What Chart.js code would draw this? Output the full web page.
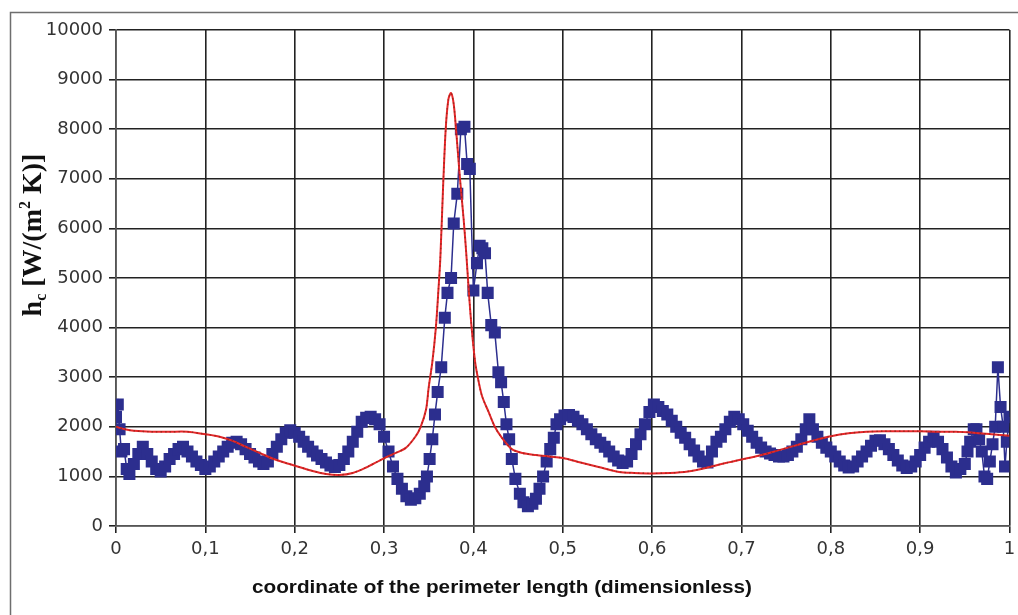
<!DOCTYPE html>
<html>
<head>
<meta charset="utf-8">
<script src="https://cdn.jsdelivr.net/npm/chart.js@4.4.1/dist/chart.umd.min.js"></script>
<style>
  html, body { margin: 0; padding: 0; background: #fff; }
  #wrap { position: relative; width: 1018px; height: 615px; }
</style>
</head>
<body>
<div id="wrap"><canvas id="hcChart" width="1018" height="615"></canvas></div>
<script>
// measured series (blue squares)
const measX = [0.000,0.002,0.004,0.006,0.009,0.012,0.015,0.020,0.025,0.030,0.035,0.040,0.045,0.050,0.055,0.060,0.065,0.070,0.075,0.080,
  0.085,0.090,0.095,0.100,0.105,0.110,0.115,0.120,0.125,0.130,0.135,0.140,0.145,0.150,0.155,0.160,0.165,0.170,0.175,0.180,
  0.185,0.190,0.195,0.200,0.205,0.210,0.215,0.220,0.225,0.230,0.235,0.240,0.245,0.250,0.255,0.260,0.265,0.270,0.275,0.280,
  0.285,0.290,0.295,0.300,0.305,0.310,0.315,0.320,0.325,0.330,0.335,0.340,0.345,0.348,0.351,0.354,0.357,0.360,0.364,0.368,
  0.371,0.375,0.378,0.382,0.386,0.390,0.393,0.396,0.400,0.404,0.407,0.410,0.413,0.416,0.420,0.424,0.428,0.431,0.434,0.437,
  0.440,0.443,0.447,0.452,0.456,0.461,0.466,0.470,0.474,0.478,0.482,0.486,0.490,0.493,0.497,0.502,0.507,0.512,0.517,0.522,
  0.527,0.532,0.537,0.542,0.547,0.552,0.557,0.562,0.567,0.572,0.577,0.582,0.587,0.592,0.597,0.602,0.607,0.612,0.617,0.622,
  0.627,0.632,0.637,0.642,0.647,0.652,0.657,0.662,0.667,0.672,0.677,0.682,0.687,0.692,0.697,0.702,0.707,0.712,0.717,0.722,
  0.727,0.732,0.737,0.742,0.747,0.752,0.757,0.762,0.767,0.772,0.776,0.780,0.785,0.790,0.795,0.800,0.805,0.810,0.815,0.820,
  0.825,0.830,0.835,0.840,0.845,0.850,0.855,0.860,0.865,0.870,0.875,0.880,0.885,0.890,0.895,0.900,0.905,0.910,0.915,0.920,
  0.925,0.930,0.935,0.940,0.945,0.950,0.953,0.956,0.960,0.963,0.966,0.969,0.972,0.975,0.978,0.981,0.984,0.987,0.990,0.993,
  0.995,0.997,1.000];
const measY = [2200,2450,1950,1500,1550,1150,1050,1250,1450,1600,1450,1300,1150,1100,1200,1350,1450,1550,1600,1500,
  1400,1300,1230,1150,1200,1300,1400,1500,1600,1680,1700,1650,1550,1450,1380,1300,1250,1300,1450,1600,
  1750,1880,1930,1880,1800,1700,1600,1500,1420,1350,1280,1220,1190,1230,1350,1500,1700,1900,2100,2180,
  2200,2150,2050,1800,1500,1200,950,750,600,530,560,650,800,1000,1350,1750,2250,2700,3200,4200,
  4700,5000,6100,6700,8000,8050,7300,7200,4750,5300,5650,5600,5500,4700,4050,3900,3100,2900,2500,2050,
  1750,1350,950,650,480,400,450,550,750,1000,1300,1550,1780,2050,2150,2230,2240,2200,2120,2050,
  1950,1850,1750,1680,1600,1500,1400,1320,1270,1300,1450,1650,1850,2050,2300,2450,2400,2320,2250,2120,
  2000,1880,1780,1650,1520,1400,1300,1280,1500,1700,1800,1950,2100,2200,2150,2050,1920,1800,1680,1580,
  1500,1460,1430,1400,1400,1430,1500,1600,1750,1950,2150,1950,1800,1680,1580,1500,1400,1300,1220,1180,
  1200,1300,1400,1500,1620,1720,1730,1650,1550,1430,1320,1220,1170,1200,1300,1430,1580,1700,1800,1700,
  1550,1380,1200,1080,1150,1250,1500,1700,1950,1950,1750,1500,1000,950,1300,1650,2000,3200,2400,2000,
  1200,1700,2200];

// computed series (red line)
const calcX = [0.000,0.010,0.020,0.040,0.060,0.080,0.100,0.116,0.130,0.145,0.160,0.175,0.190,0.205,0.220,0.235,0.250,0.265,0.280,0.295,
  0.310,0.324,0.335,0.341,0.347,0.350,0.354,0.358,0.361,0.363,0.366,0.369,0.372,0.375,0.378,0.381,0.385,0.389,0.392,0.395,
  0.398,0.402,0.406,0.410,0.417,0.424,0.431,0.443,0.455,0.470,0.485,0.500,0.520,0.540,0.563,0.580,0.600,0.620,0.640,0.660,
  0.680,0.700,0.720,0.740,0.760,0.780,0.800,0.820,0.840,0.860,0.880,0.900,0.920,0.940,0.960,0.980,1.000];
const calcY = [2000,1950,1920,1900,1900,1900,1850,1800,1720,1600,1480,1360,1270,1190,1110,1050,1030,1070,1180,1320,
  1450,1570,1800,2000,2350,2800,3300,4000,4800,5400,6800,8000,8600,8730,8500,7900,7000,6200,5500,4700,
  4000,3300,2900,2600,2300,2000,1800,1550,1470,1430,1400,1370,1280,1190,1090,1070,1060,1070,1100,1170,
  1260,1340,1420,1520,1620,1720,1810,1870,1900,1910,1910,1910,1900,1900,1880,1850,1820];

const yTicks = [0,1000,2000,3000,4000,5000,6000,7000,8000,9000,10000];
const xTitle = "coordinate of the perimeter length (dimensionless)";

function toPoints(xs, ys) {
  return xs.map((x, i) => ({ x: x, y: ys[i] }));
}

const NAVY = "#2c2e8e";
const RED = "#e8262a";

const framePlugin = {
  id: "frame",
  beforeDraw(chart) {
    const ctx = chart.ctx;
    ctx.save();
    ctx.strokeStyle = "#6e6e6e";
    ctx.lineWidth = 1.5;
    ctx.strokeRect(10.5, 12.5, 1030, 640);
    ctx.restore();
  },
  afterDraw(chart) {
    const ctx = chart.ctx;
    ctx.save();
    // x title, placed and stretched as in the original figure
    ctx.fillStyle = "#111";
    ctx.font = "bold 18px 'Liberation Sans', Arial, sans-serif";
    const tw = ctx.measureText(xTitle).width;
    ctx.save();
    ctx.translate(502, 588);
    ctx.scale(500 / tw, 1);
    ctx.textAlign = "center";
    ctx.textBaseline = "middle";
    ctx.fillText(xTitle, 0, 0);
    ctx.restore();

    // y title with sub/superscript
    ctx.translate(31, 235);
    ctx.rotate(-Math.PI / 2);
    const parts = [
      { t: "h", f: "bold 28px 'Liberation Serif', serif", dy: 0 },
      { t: "c", f: "bold 16px 'Liberation Serif', serif", dy: 5 },
      { t: " [W/(m", f: "bold 28px 'Liberation Serif', serif", dy: 0 },
      { t: "2", f: "bold 16px 'Liberation Serif', serif", dy: -11 },
      { t: " K)]", f: "bold 28px 'Liberation Serif', serif", dy: 0 }
    ];
    let total = 0;
    parts.forEach(p => { ctx.font = p.f; p.w = ctx.measureText(p.t).width; total += p.w; });
    let cx = -total / 2;
    ctx.textAlign = "left";
    ctx.textBaseline = "alphabetic";
    parts.forEach(p => {
      ctx.font = p.f;
      ctx.fillText(p.t, cx, 10 + p.dy);
      cx += p.w;
    });
    ctx.restore();
  }
};

const ctx = document.getElementById("hcChart").getContext("2d");

new Chart(ctx, {
  type: "scatter",
  data: {
    datasets: [
      {
        label: "measured",
        data: toPoints(measX, measY),
        showLine: true,
        borderColor: NAVY,
        borderWidth: 1.5,
        pointStyle: "rect",
        pointRadius: 8.5,
        pointBackgroundColor: NAVY,
        pointBorderColor: NAVY,
        pointBorderWidth: 0,
        order: 2
      },
      {
        label: "computed",
        data: toPoints(calcX, calcY),
        showLine: true,
        borderColor: RED,
        borderWidth: 2,
        pointRadius: 0,
        tension: 0.3,
        order: 1
      },
      {
        label: "computed (dots)",
        data: toPoints(calcX, calcY),
        showLine: true,
        borderColor: "#9c2a1c",
        borderWidth: 1.4,
        borderDash: [1.5, 3],
        pointRadius: 0,
        tension: 0.3,
        order: 0
      }
    ]
  },
  options: {
    responsive: false,
    animation: false,
    devicePixelRatio: 1,
    layout: { padding: { left: 0, top: 30, right: 0, bottom: 0 } },
    plugins: {
      legend: { display: false },
      tooltip: { enabled: false },
      title: { display: false }
    },
    scales: {
      x: {
        type: "linear",
        min: 0,
        max: 1,
        afterFit: s => { s.height = 89; s.paddingRight = 5; },
        ticks: {
          stepSize: 0.1,
          color: "#333",
          padding: 6,
          font: { family: "'DejaVu Sans', sans-serif", size: 18 },
          callback: v => {
            const r = Math.round(v * 10) / 10;
            if (r === 0) return "0";
            if (r === 1) return "1";
            return r.toFixed(1).replace(".", ",");
          }
        },
        grid: { color: "#222", lineWidth: 1.6, tickLength: 7 },
        border: { color: "#555", width: 1.5 }
      },
      y: {
        min: 0,
        max: 10000,
        afterFit: s => { s.width = 116; },
        afterBuildTicks: s => { s.ticks = yTicks.map(v => ({ value: v })); },
        ticks: {
          color: "#333",
          padding: 6,
          font: { family: "'DejaVu Sans', sans-serif", size: 18 },
          callback: v => String(v)
        },
        grid: { color: "#222", lineWidth: 1.6, tickLength: 7 },
        border: { color: "#555", width: 1.5 }
      }
    }
  },
  plugins: [framePlugin]
});
</script>
</body>
</html>
